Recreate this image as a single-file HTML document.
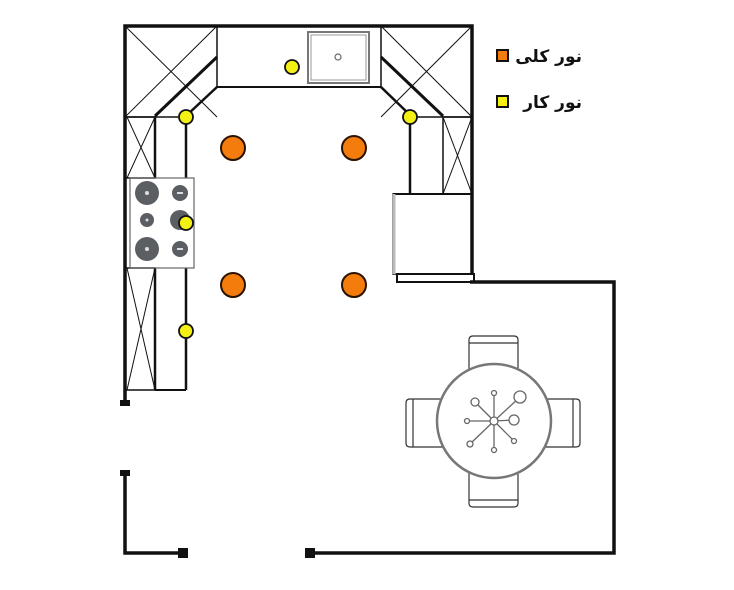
<!DOCTYPE html>
<html><head><meta charset="utf-8"><style>
html,body{margin:0;padding:0;background:#fff;width:734px;height:590px;overflow:hidden}
</style></head><body>
<svg width="734" height="590" viewBox="0 0 734 590" xmlns="http://www.w3.org/2000/svg">
<g fill="none" stroke="#111" stroke-width="1.5">
<!-- top-left corner unit -->
<line x1="125" y1="26" x2="217" y2="117" stroke-width="1"/>
<line x1="217" y1="26" x2="125" y2="117" stroke-width="1"/>
<line x1="125" y1="117" x2="186" y2="117"/>
<line x1="217" y1="26" x2="217" y2="87"/>
<line x1="217" y1="57" x2="155" y2="116" stroke-width="3"/>
<line x1="217" y1="87" x2="187" y2="115" stroke-width="2.5"/>
<!-- top counter -->
<line x1="217" y1="87" x2="381" y2="87" stroke-width="2"/>
<rect x="308" y="32" width="61" height="51" stroke="#777" stroke-width="2"/>
<rect x="311" y="35" width="55" height="45" stroke="#999" stroke-width="1"/>
<circle cx="338" cy="57" r="3" stroke="#666" stroke-width="1.2"/>
<!-- top-right corner -->
<line x1="381" y1="26" x2="472" y2="117" stroke-width="1"/>
<line x1="472" y1="26" x2="381" y2="117" stroke-width="1"/>
<line x1="381" y1="26" x2="381" y2="87"/>
<line x1="381" y1="57" x2="443" y2="116" stroke-width="3"/>
<line x1="381" y1="87" x2="410" y2="115" stroke-width="2.5"/>
<line x1="410" y1="117" x2="472" y2="117"/>
<!-- right column -->
<rect x="443" y="117" width="29" height="77" stroke-width="1.5"/>
<line x1="443" y1="117" x2="472" y2="194" stroke-width="1"/>
<line x1="472" y1="117" x2="443" y2="194" stroke-width="1"/>
<line x1="410" y1="117" x2="410" y2="194" stroke-width="2.5"/>
<line x1="393" y1="194" x2="472" y2="194" stroke-width="2"/>
<!-- fridge -->
<rect x="393" y="194" width="79" height="80" stroke-width="1.5"/>
<line x1="394" y1="194" x2="394" y2="274" stroke="#bbb" stroke-width="3"/>
<rect x="397" y="274" width="77" height="8" stroke-width="2"/>
<!-- left column -->
<rect x="125" y="117" width="30" height="61" stroke-width="1.5"/>
<line x1="127" y1="117" x2="155" y2="178" stroke-width="1"/>
<line x1="155" y1="117" x2="127" y2="178" stroke-width="1"/>
<line x1="155" y1="117" x2="155" y2="178" stroke-width="2.5"/>
<rect x="125" y="268" width="30" height="122" stroke-width="1.5"/>
<line x1="127" y1="268" x2="155" y2="390" stroke-width="1"/>
<line x1="155" y1="268" x2="127" y2="390" stroke-width="1"/>
<line x1="155" y1="268" x2="155" y2="390" stroke-width="2.5"/>
<line x1="186" y1="117" x2="186" y2="178" stroke-width="2.5"/>
<line x1="186" y1="268" x2="186" y2="390" stroke-width="2.5"/>
<line x1="155" y1="390" x2="186" y2="390" stroke-width="2"/>
<!-- stove -->
<rect x="130" y="178" width="64" height="90" stroke="#666" stroke-width="1.2"/>
</g>
<g fill="#5b5e63">
<circle cx="147" cy="193" r="12"/><circle cx="180" cy="193" r="8"/>
<circle cx="147" cy="220" r="7"/><circle cx="180" cy="220" r="10"/>
<circle cx="147" cy="249" r="12"/><circle cx="180" cy="249" r="8"/>
</g>
<g fill="#ddd"><circle cx="147" cy="193" r="2"/><circle cx="147" cy="249" r="2"/><circle cx="147" cy="220" r="1.5"/><rect x="177" y="192" width="6" height="2"/><rect x="177" y="248" width="6" height="2"/></g>
<!-- walls -->
<g fill="none" stroke="#111" stroke-width="3.5">
<polyline points="125,403 125,26 472,26 472,275"/>
<polyline points="470,282 614,282 614,553 310,553"/>
<polyline points="125,473 125,553 183,553"/>
</g>
<g fill="#111">
<rect x="120" y="400" width="10" height="6"/>
<rect x="120" y="470" width="10" height="6"/>
<rect x="178" y="548" width="10" height="10"/>
<rect x="305" y="548" width="10" height="10"/>
</g>
<!-- table & chairs -->
<g fill="#fff" stroke="#333" stroke-width="1.2">
<path d="M469,370 L469,340 Q469,336 473,336 L514,336 Q518,336 518,340 L518,370 Z"/>
<line x1="469" y1="343" x2="518" y2="343"/>
<path d="M469,472 L469,503 Q469,507 473,507 L514,507 Q518,507 518,503 L518,472 Z"/>
<line x1="469" y1="500" x2="518" y2="500"/>
<path d="M442,399 L410,399 Q406,399 406,403 L406,443 Q406,447 410,447 L442,447 Z"/>
<line x1="413" y1="399" x2="413" y2="447"/>
<path d="M546,399 L576,399 Q580,399 580,403 L580,443 Q580,447 576,447 L546,447 Z"/>
<line x1="573" y1="399" x2="573" y2="447"/>
</g>
<circle cx="494" cy="421" r="57" fill="#fff" stroke="#777" stroke-width="2.5"/>
<g stroke="#666" stroke-width="1.3" fill="#fff">
<line x1="494" y1="421" x2="494" y2="393"/><line x1="494" y1="421" x2="494" y2="450"/>
<line x1="494" y1="421" x2="467" y2="421"/><line x1="494" y1="421" x2="514" y2="420"/>
<line x1="494" y1="421" x2="475" y2="402"/><line x1="494" y1="421" x2="519" y2="398"/>
<line x1="494" y1="421" x2="470" y2="444"/><line x1="494" y1="421" x2="514" y2="441"/>
<circle cx="494" cy="421" r="4"/><circle cx="494" cy="393" r="2.5"/><circle cx="494" cy="450" r="2.5"/>
<circle cx="467" cy="421" r="2.5"/><circle cx="514" cy="420" r="5"/><circle cx="475" cy="402" r="4"/>
<circle cx="520" cy="397" r="6"/><circle cx="470" cy="444" r="3"/><circle cx="514" cy="441" r="2.5"/>
</g>
<!-- lights -->
<g fill="#f47c0c" stroke="#2a1200" stroke-width="2">
<circle cx="233" cy="148" r="12"/><circle cx="354" cy="148" r="12"/>
<circle cx="233" cy="285" r="12"/><circle cx="354" cy="285" r="12"/>
</g>
<g fill="#f5f014" stroke="#111" stroke-width="1.8">
<circle cx="292" cy="67" r="7"/><circle cx="186" cy="117" r="7"/><circle cx="410" cy="117" r="7"/>
<circle cx="186" cy="223" r="7"/><circle cx="186" cy="331" r="7"/>
</g>
<!-- legend -->
<rect x="497" y="50" width="11" height="11" fill="#f47c0c" stroke="#111" stroke-width="2"/>
<rect x="497" y="96" width="11" height="11" fill="#f5f014" stroke="#111" stroke-width="2"/>
<text x="582" y="62" text-anchor="end" font-family="'DejaVu Sans',sans-serif" font-weight="bold" font-size="17" fill="#111">نور کلی</text>
<text x="582" y="108" text-anchor="end" font-family="'DejaVu Sans',sans-serif" font-weight="bold" font-size="17" fill="#111">نور کار</text>
</svg>
</body></html>
